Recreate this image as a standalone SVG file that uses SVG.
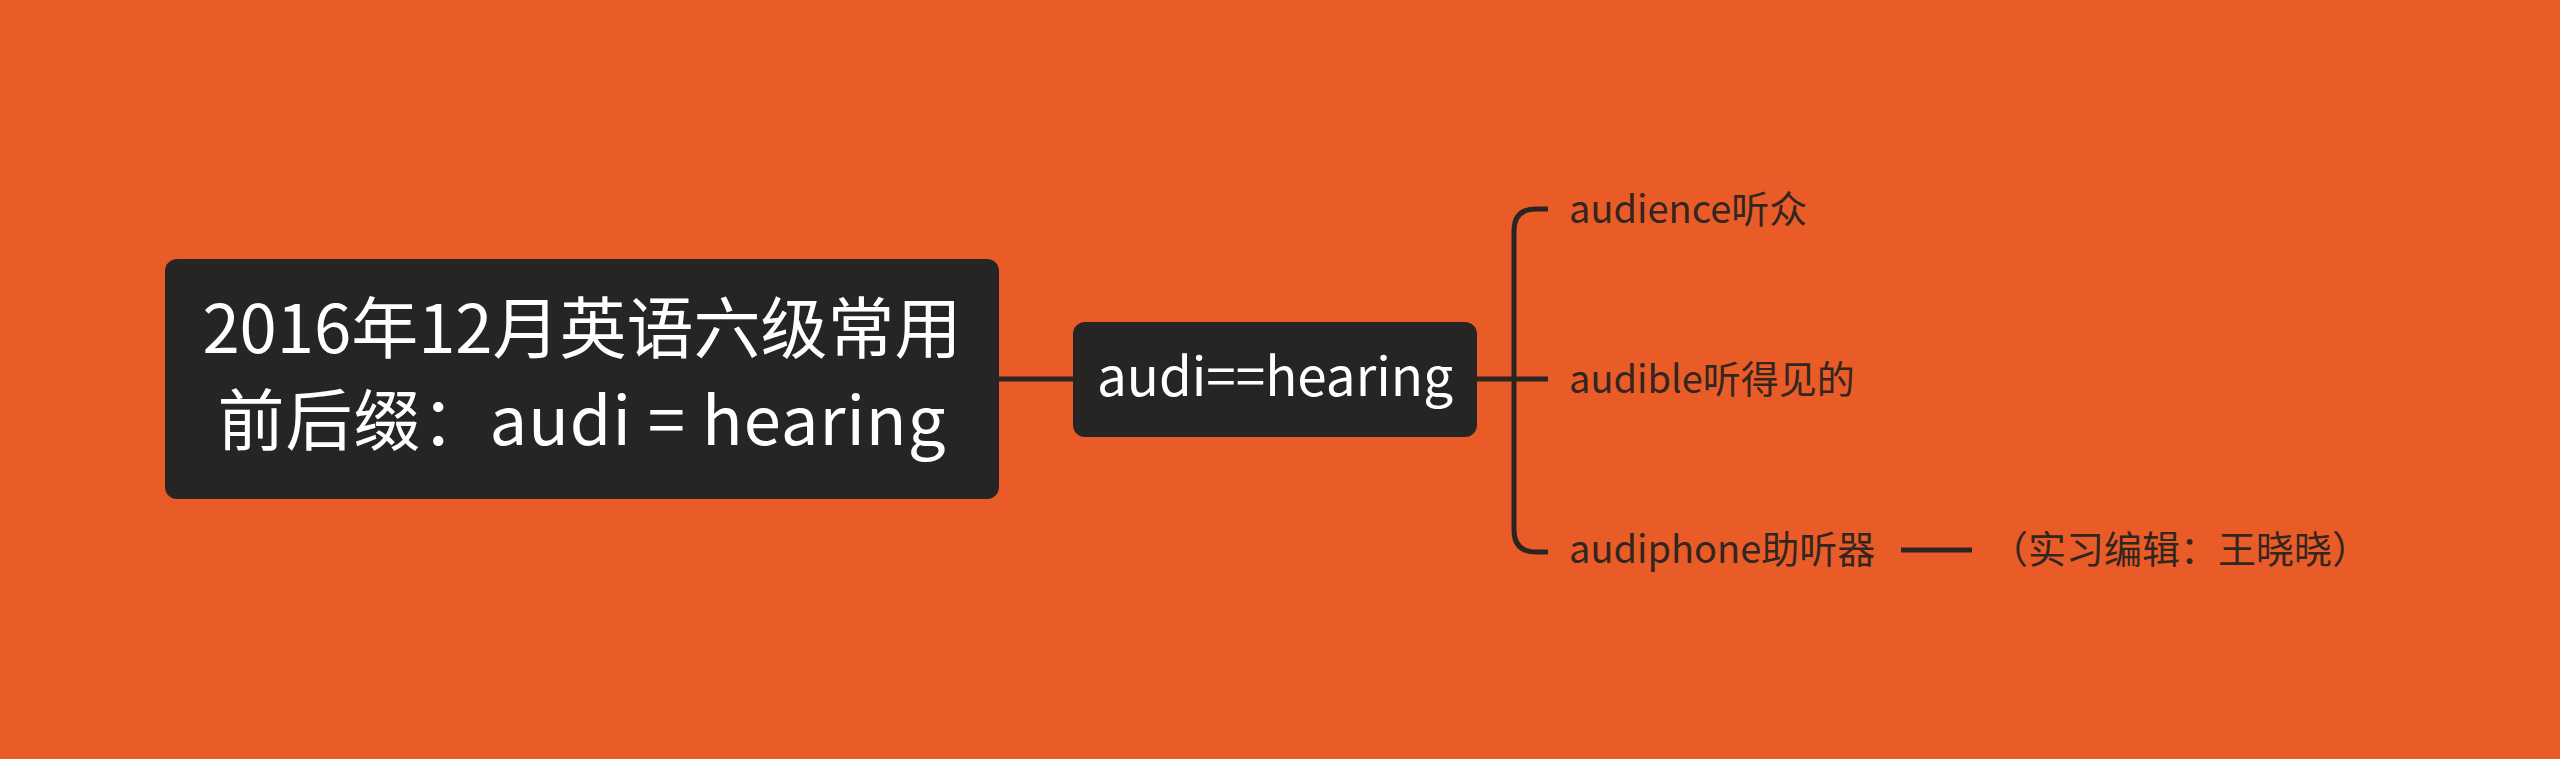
<svg xmlns="http://www.w3.org/2000/svg" width="2560" height="759" viewBox="0 0 2560 759">
<style>
.node{fill:#262524;}
.wt{fill:#ffffff;font-family:"Noto Sans CJK SC","Liberation Sans",sans-serif;}
.ct{fill:#33261f;font-family:"Noto Sans CJK SC","Liberation Sans",sans-serif;font-size:38px;}
.ln{fill:none;stroke:#2a2522;stroke-width:5;stroke-linecap:butt;}
</style>
<rect x="0" y="0" width="2560" height="759" fill="#E95C28"/>
<g id="connectors">
<line class="ln" x1="999" y1="379" x2="1073" y2="379"/>
<line class="ln" x1="1477" y1="379" x2="1548" y2="379"/>
<path class="ln" d="M1548 209 H1536 Q1514 209 1514 231 V530 Q1514 552 1536 552 H1548"/>
<line class="ln" x1="1901" y1="550" x2="1972" y2="550"/>
</g>
<g id="root">
<rect class="node" x="165" y="259" width="834" height="240" rx="12"/>
<text class="wt" font-size="67" x="582" y="353" text-anchor="middle">2016年12月英语六级常用</text>
<text class="wt" font-size="67" x="582" y="445" text-anchor="middle" letter-spacing="1">前后缀：audi = hearing</text>
</g>
<g id="mid">
<rect class="node" x="1073" y="322" width="404" height="115" rx="12"/>
<text class="wt" font-size="53" x="1275" y="396" text-anchor="middle">audi==hearing</text>
</g>
<g id="c1"><text class="ct" x="1569" y="223">audience听众</text></g>
<g id="c2"><text class="ct" x="1569" y="393">audible听得见的</text></g>
<g id="c3"><text class="ct" x="1569" y="563">audiphone助听器</text></g>
<g id="c4"><text class="ct" x="1990" y="563">（实习编辑：王晓晓）</text></g>
</svg>
